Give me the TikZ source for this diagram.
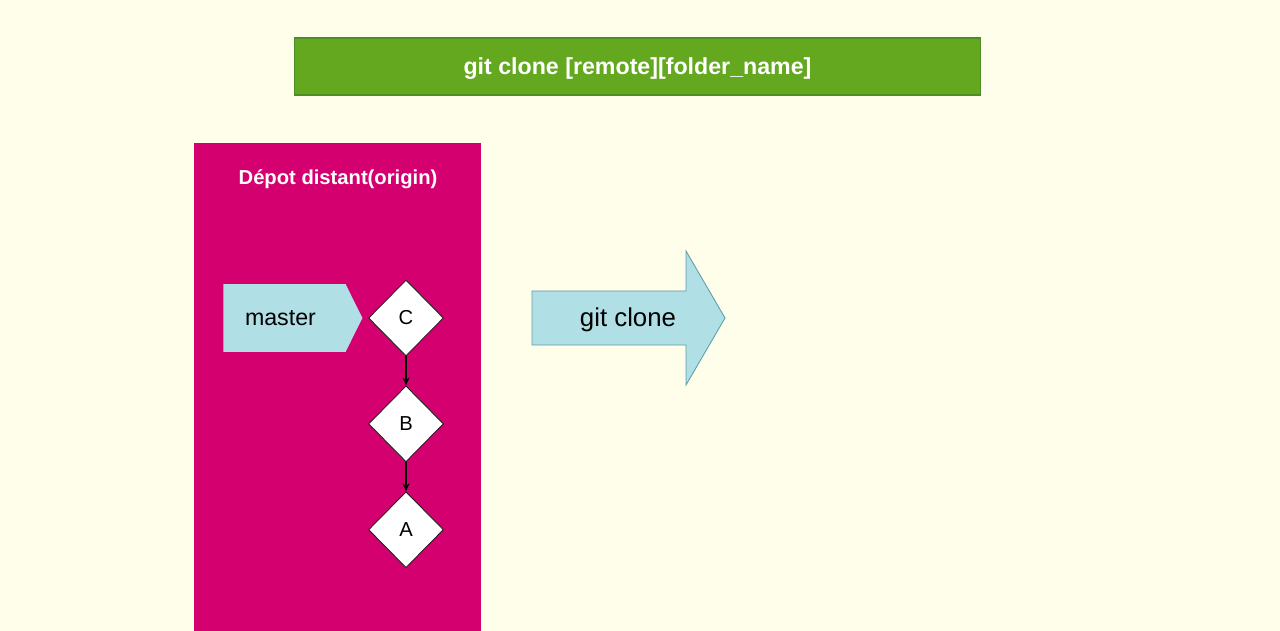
\documentclass[tikz,border=0pt]{standalone}
\usepackage{fontspec}
\setmainfont{Liberation Sans}
\usetikzlibrary{arrows.meta,positioning,shapes.geometric,shapes.symbols}
\definecolor{paper}{RGB}{254,254,235}
\definecolor{cmdgreen}{RGB}{99,168,30}
\definecolor{cmdedge}{RGB}{78,140,36}
\definecolor{origin}{RGB}{213,0,111}
\definecolor{powder}{RGB}{176,224,230}
\definecolor{powderedge}{RGB}{96,158,168}
\definecolor{ink}{RGB}{30,30,30}
\tikzset{
  cmd/.style={draw=cmdedge,line width=0.6pt,fill=cmdgreen,minimum width=13.74cm,minimum height=1.14cm,text=white,font=\fontsize{13.2}{15}\selectfont\bfseries},
  depot/.style={fill=origin,minimum width=5.74cm,minimum height=9.76cm,inner sep=0pt},
  depottitle/.style={text=white,font=\fontsize{11.5}{14}\selectfont\bfseries},
  branch/.style={signal,signal to=east,signal from=nowhere,signal pointer angle=127,fill=powder,minimum width=2.78cm,minimum height=1.36cm,inner sep=0pt,text width=1.58cm,align=left,font=\fontsize{13.2}{15}\selectfont},
  commit/.style={diamond,draw=ink,line width=0.5pt,fill=white,minimum width=1.5cm,minimum height=1.52cm,inner sep=0pt,font=\fontsize{11.5}{13}\selectfont},
  parent/.style={-{Stealth[length=1.6mm,width=1.4mm]},draw=black,line width=0.6pt},
  action/.style={draw=powderedge,line width=0.5pt,fill=powder},
  actiontext/.style={font=\fontsize{14.7}{17}\selectfont}
}
\begin{document}
\begin{tikzpicture}[x=0.02cm,y=-0.02cm,node distance=0.58cm]
  \fill[paper] (0,0) rectangle (1280,631);
  \useasboundingbox (0,0) rectangle (1280,631);
  \node[cmd,text depth=0pt] (clonecmd) at (637.5,66.5) {git clone [remote][folder\_name]};
  \node[depot] (remote) at (337.5,387) {};
  \node[depottitle] (remotetitle) at (338,179) {Dépot distant(origin)};
  \node[commit] (c) at (406,318) {C};
  \node[commit,below=of c] (b) {B};
  \node[commit,below=of b] (a) {A};
  \node[branch] (master) at (284.5,318) {master};
  \draw[parent] (c) -- (b);
  \draw[parent] (b) -- (a);
  % big arrow
  \draw[action] (532,291) -- (686,291) -- (686,251) -- (725,318) -- (686,385) -- (686,345) -- (532,345) -- cycle;
  \node[actiontext] (clonestep) at (628,320) {git clone};
\end{tikzpicture}
\end{document}
